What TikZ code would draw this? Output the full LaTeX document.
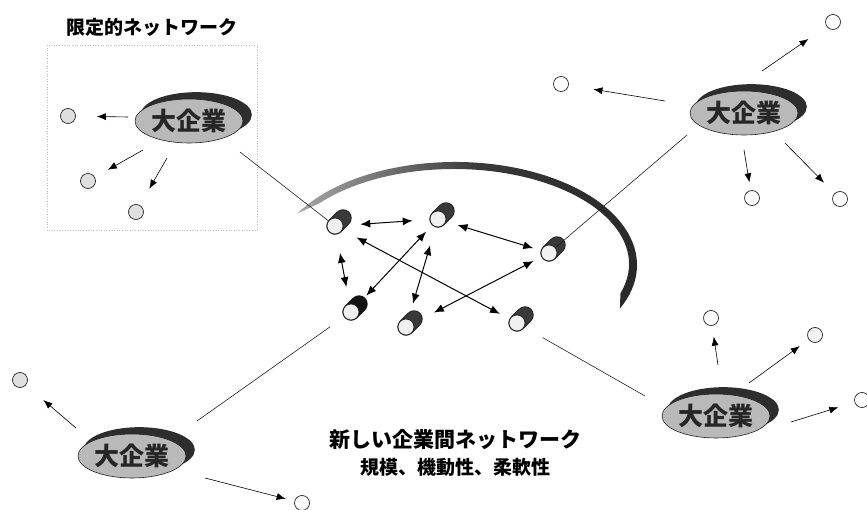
\documentclass[tikz,border=0pt]{standalone}
\usepackage{fontspec}
\newfontfamily\jp{Noto Sans CJK JP}
\usetikzlibrary{arrows.meta,shapes.geometric,shadows}
\newcommand\cylnode[4]{%
  \draw[line width=17.4pt, line cap=round, gray!20!black] (#2,#3) -- ++(8,-8);
  \draw[line width=15.8pt, line cap=round, #4] (#2,#3) -- ++(8,-8);
  \node[face] (#1) at (#2,#3) {};}
\begin{document}
\begin{tikzpicture}[x=1pt,y=-1pt,
  bigco/.style={ellipse, draw=gray!25!black, line width=0.6pt, fill=gray!55,
    minimum width=108pt, minimum height=44pt, inner sep=0pt,
    font=\jp\bfseries\fontsize{25}{25}\selectfont, text=black!85,
    drop shadow={shadow xshift=7pt, shadow yshift=6pt, opacity=1,
      fill=gray!35!black, shadow scale=1.03}},
  smallc/.style={circle, draw=gray!30!black, line width=0.7pt,
    minimum size=15pt, inner sep=0pt, fill=white},
  face/.style={circle, draw=gray!25!black, line width=0.7pt,
    minimum size=16pt, inner sep=0pt, fill=gray!12},
  arr/.style={-{Latex[length=9pt,width=7pt]}, line width=0.6pt},
  darr/.style={{Latex[length=10pt,width=8pt]}-{Latex[length=10pt,width=8pt]}, line width=1pt},
  link/.style={line width=0.6pt, gray!25!black},
  label/.style={font=\jp\bfseries\fontsize{#1}{#1}\selectfont, inner sep=0pt}
]
\useasboundingbox (0,0) rectangle (867,510);

% frame of the limited network
\draw[gray!55, dotted, line width=0.6pt] (47,45) rectangle (257,230);
\node[label=19] (title) at (152,27) {限定的ネットワーク};

% crescent of the new network
\path[left color=gray!70, right color=gray!30!black, middle color=gray!45!black]
  (455,265) ++(-150:182 and 103)
  arc[start angle=-150, end angle=25, x radius=182, y radius=103]
  -- ([shift={(18:175 and 95)}]454,264)
  arc[start angle=18, end angle=-140, x radius=175, y radius=95] -- cycle;

% small outer circles
\node[smallc, fill=gray!25] (c1) at (68,116) {};
\node[smallc, fill=gray!25] (c2) at (88,181) {};
\node[smallc, fill=gray!25] (c3) at (136,212) {};
\node[smallc] (c4) at (561,84) {};
\node[smallc] (c5) at (833,22) {};
\node[smallc] (c6) at (752,198) {};
\node[smallc] (c7) at (840,199) {};
\node[smallc, fill=gray!25] (c8) at (20,380) {};
\node[smallc] (c9) at (302,503) {};
\node[smallc] (c10) at (711,318) {};
\node[smallc, fill=gray!10] (c11) at (815,335) {};
\node[smallc] (c12) at (862,400) {};

% link start points near the big companies
\coordinate (tlL) at (240,152);
\coordinate (trL) at (687,135);
\coordinate (blL) at (197,421);
\coordinate (brL) at (645,396);

% arrow tails
\coordinate (t1) at (128,117);
\coordinate (t2) at (143,150);
\coordinate (t3) at (167,158);
\coordinate (t4) at (665,101);
\coordinate (t5) at (762,71);
\coordinate (t6) at (744,150);
\coordinate (t7) at (785,143);
\coordinate (t8) at (76,428);
\coordinate (t9) at (205,478);
\coordinate (t10) at (718,365);
\coordinate (t11) at (749,383);
\coordinate (t12) at (791,422);

% network cylinders
\cylnode{N1}{335}{226}{gray!45!black}
\cylnode{N2}{438}{219}{gray!45!black}
\cylnode{N3}{549}{253}{gray!45!black}
\cylnode{N4}{351}{312}{gray!15!black}
\cylnode{N5}{406}{327}{gray!45!black}
\cylnode{N6}{517}{323}{gray!45!black}

% links from big companies into the network
\draw[link] (tlL) -- (N1);
\draw[link] (trL) -- (N3);
\draw[link, shorten >=17pt] (blL) -- (N4);
\draw[link, shorten >=21pt] (brL) -- (N6);

% network arrows
\draw[darr, shorten <=17pt, shorten >=17pt] (N1) -- (N2);
\draw[darr, shorten <=12pt, shorten >=8pt] (N2) -- (N3);
\draw[darr, shorten <=19pt, shorten >=17pt] (N1) -- (N4);
\draw[darr, shorten <=9pt, shorten >=14pt] (N2) -- (N4);
\draw[darr, shorten <=16pt, shorten >=11pt] (N1) -- (N6);
\draw[darr, shorten <=19pt, shorten >=16pt] (N2) -- (N5);
\draw[darr, shorten <=9pt, shorten >=23pt] (N3) -- (N5);

% big companies
\node[bigco] (tlE) at (189,121) {大企業};
\node[bigco] (trE) at (744,113) {大企業};
\node[bigco] (blE) at (132,456) {大企業};
\node[bigco] (brE) at (716,416) {大企業};

% arrows to outer circles
\draw[arr, shorten >=21pt] (t1) -- (c1);
\draw[arr, shorten >=15pt] (t2) -- (c2);
\draw[arr, shorten >=19pt] (t3) -- (c3);
\draw[arr, shorten >=25pt] (t4) -- (c4);
\draw[arr, shorten >=22pt] (t5) -- (c5);
\draw[arr, shorten >=8pt] (t6) -- (c6);
\draw[arr, shorten >=15pt] (t7) -- (c7);
\draw[arr, shorten >=23pt] (t8) -- (c8);
\draw[arr, shorten >=9pt] (t9) -- (c9);
\draw[arr, shorten >=11pt] (t10) -- (c10);
\draw[arr, shorten >=11pt] (t11) -- (c11);
\draw[arr, shorten >=17pt] (t12) -- (c12);

% captions
\node[label=21] (net) at (455,440) {新しい企業間ネットワーク};
\node[label=19] (feat) at (455,467) {規模、機動性、柔軟性};
\end{tikzpicture}
\end{document}
